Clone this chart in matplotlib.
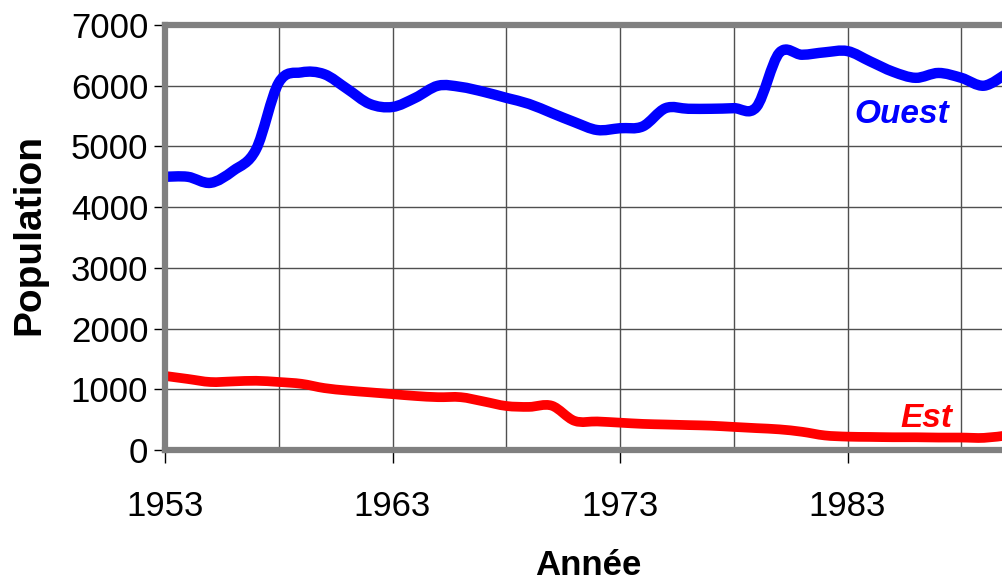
import matplotlib
matplotlib.use("Agg")
import matplotlib.pyplot as plt
from matplotlib.path import Path
from matplotlib.patches import PathPatch

plt.rcParams["font.family"] = ["Liberation Sans", "DejaVu Sans"]

years = list(range(1953, 1991))

ouest = [4500, 4500, 4400, 4600, 4950, 6050, 6220, 6190, 5950, 5700,
         5650, 5800, 6000, 5980, 5900, 5800, 5700, 5550, 5400, 5270,
         5300, 5330, 5630, 5620, 5620, 5630, 5650, 6540, 6510, 6550,
         6570, 6400, 6230, 6130, 6210, 6130, 6000, 6200]

est = [1220, 1170, 1120, 1130, 1140, 1120, 1090, 1020, 980, 950,
       920, 890, 870, 870, 800, 725, 710, 730, 480, 470,
       450, 430, 420, 410, 400, 380, 360, 340, 300, 240,
       220, 215, 210, 210, 205, 205, 200, 240]

xticks = [1953, 1963, 1973, 1983]
yticks = [0, 1000, 2000, 3000, 4000, 5000, 6000, 7000]


def smooth_path(xs, ys):
    # bezier path through the points, like the spreadsheet "smoothed line"
    verts = [(xs[0], ys[0])]
    codes = [Path.MOVETO]
    n = len(xs)
    for i in range(n - 1):
        x0, y0 = (xs[i - 1], ys[i - 1]) if i > 0 else (xs[i], ys[i])
        x1, y1 = xs[i], ys[i]
        x2, y2 = xs[i + 1], ys[i + 1]
        x3, y3 = (xs[i + 2], ys[i + 2]) if i + 2 < n else (x2, y2)
        verts += [(x1 + (x2 - x0) / 6, y1 + (y2 - y0) / 6),
                  (x2 - (x3 - x1) / 6, y2 - (y3 - y1) / 6),
                  (x2, y2)]
        codes += [Path.CURVE4] * 3
    return Path(verts, codes)


fig = plt.figure(figsize=(10.02, 5.85), dpi=100)
ax = fig.add_axes([165 / 1002, 1 - 450 / 585, 910 / 1002, 425 / 585])

ax.add_patch(PathPatch(smooth_path(years, ouest), fill=False, edgecolor="#0000ff",
                       lw=7.5, joinstyle="round", capstyle="butt", zorder=3))
ax.add_patch(PathPatch(smooth_path(years, est), fill=False, edgecolor="#ff0000",
                       lw=7, joinstyle="round", capstyle="butt", zorder=3))

ax.set_xlim(1953, 1993)
ax.set_ylim(0, 7000)

# grid every 5 years / 1000
for x in range(1958, 1993, 5):
    ax.axvline(x, color="#505050", lw=1, zorder=1)
for y in yticks[1:]:
    ax.axhline(y, color="#505050", lw=1, zorder=1)

ax.set_xticks(xticks)
ax.set_yticks(yticks)
ax.tick_params(axis="both", direction="out", colors="black", labelsize=25,
               width=1)
ax.tick_params(axis="y", length=8, pad=4)
ax.tick_params(axis="x", length=9, pad=20)

for side in ["left", "top", "bottom"]:
    ax.spines[side].set_color("#808080")
    ax.spines[side].set_linewidth(4.5)
    ax.spines[side].set_zorder(4)
ax.spines["right"].set_visible(False)

ax.set_xlabel("Année", fontsize=25, fontweight="bold")
ax.xaxis.set_label_coords((588 - 165) / 910, (450 - 549) / 425)
ax.set_ylabel("Population", fontsize=28, fontweight="bold")
ax.yaxis.set_label_coords((47 - 165) / 910, (450 - 234) / 425)

ax.text(1985.4, 5520, "Ouest", color="#0000ff", fontsize=24,
        fontweight="bold", fontstyle="italic", ha="center", va="center")
ax.text(1986.45, 520, "Est", color="#ff0000", fontsize=24,
        fontweight="bold", fontstyle="italic", ha="center", va="center")

fig.savefig("out.png", dpi=100)
